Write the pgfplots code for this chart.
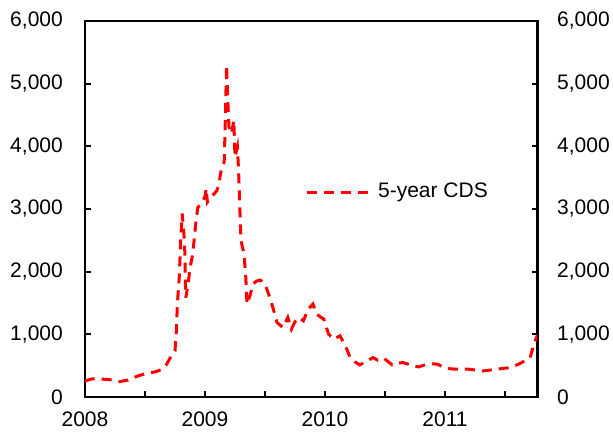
\documentclass[border=0pt]{standalone}
\usepackage{pgfplots}
\pgfplotsset{compat=1.18}
\usepackage{pgfplotstable}
\usepackage{fontspec}
\setmainfont{Liberation Sans}

\pgfplotstableread{
year val
2008.00 256
2008.06 290
2008.125 288
2008.18 280
2008.23 272
2008.29 245
2008.33 262
2008.36 270
2008.40 300
2008.44 336
2008.50 370
2008.54 384
2008.60 410
2008.65 448
2008.68 520
2008.71 624
2008.75 736
2008.76 1000
2008.77 1488
2008.785 1900
2008.79 2128
2008.80 2600
2008.81 2928
2008.82 2700
2008.83 2448
2008.835 2000
2008.84 1584
2008.86 1808
2008.875 2064
2008.89 2200
2008.90 2336
2008.915 2600
2008.925 2816
2008.94 3024
2008.97 3088
2009.00 3200
2009.01 3328
2009.02 3110
2009.05 3190
2009.08 3250
2009.10 3296
2009.12 3420
2009.125 3509
2009.14 3669
2009.16 3749
2009.165 4100
2009.17 4469
2009.175 4900
2009.18 5296
2009.185 5000
2009.19 4736
2009.20 4309
2009.22 4203
2009.23 4300
2009.24 4416
2009.25 3829
2009.27 3989
2009.28 3616
2009.29 3029
2009.30 2496
2009.325 2283
2009.34 1909
2009.35 1483
2009.375 1616
2009.40 1803
2009.43 1850
2009.46 1867
2009.50 1803
2009.54 1589
2009.57 1400
2009.60 1189
2009.65 1109
2009.69 1269
2009.72 1083
2009.75 1200
2009.78 1269
2009.82 1216
2009.86 1403
2009.90 1483
2009.93 1323
2009.96 1280
2009.99 1243
2010.03 1003
2010.07 923
2010.10 950
2010.125 976
2010.17 816
2010.21 629
2010.25 560
2010.29 512
2010.35 576
2010.40 629
2010.44 587
2010.49 619
2010.56 512
2010.60 540
2010.65 549
2010.70 520
2010.78 480
2010.83 510
2010.875 533
2010.94 523
2010.98 480
2011.03 453
2011.10 443
2011.20 443
2011.32 416
2011.43 443
2011.54 469
2011.625 533
2011.71 629
2011.74 843
2011.771 990
}\cds

\begin{document}
\fontsize{21bp}{25bp}\selectfont
\begin{tikzpicture}
\pgfplotsset{
  common/.style={
    scale only axis, width=452.5bp, height=376bp,
    xmin=2008, xmax=2011.771, ymin=0, ymax=6000,
    ytick={0,1000,2000,3000,4000,5000,6000},
    /pgf/number format/assume math mode=true,
    /pgf/number format/1000 sep={,},
    tick align=inside, major tick length=6bp,
    every tick/.style={black, line width=2bp},
    ticklabel style={font=\fontsize{21bp}{25bp}\selectfont, inner sep=0pt},
  }
}
\begin{axis}[
  common, name=main,
  axis line style={line width=2.5bp},
  xtick={2008,2008.5,2009,2009.5,2010,2010.5,2011,2011.5},
  xticklabels={2008,,2009,,2010,,2011,},
  xtick pos=bottom,
  ytick pos=both, yticklabel pos=left,
  yticklabel style={xshift=-22bp},
  xticklabel style={yshift=-15bp},
  legend style={at={(0.486,0.545)}, anchor=west, draw=none, fill=none,
    inner sep=0pt, font=\fontsize{21bp}{25bp}\selectfont},
  legend cell align=left,
  legend image code/.code={\draw[#1] (0bp,0bp) -- (62bp,0bp);},
]
\addplot[red, line width=3bp, dash pattern=on 10bp off 7bp] table[x=year, y=val] {\cds};
\addlegendentry{\hspace{6bp}5-year CDS}
\end{axis}
\begin{axis}[
  common,
  hide x axis,
  axis y line*=right,
  y axis line style={draw=none},
  yticklabel style={xshift=19.5bp},
  major tick length=0pt,
]
\end{axis}
\pgfresetboundingbox
\path ([shift={(-85bp,-35bp)}]main.south west) rectangle ([shift={(75.5bp,21bp)}]main.north east);
\end{tikzpicture}
\end{document}
